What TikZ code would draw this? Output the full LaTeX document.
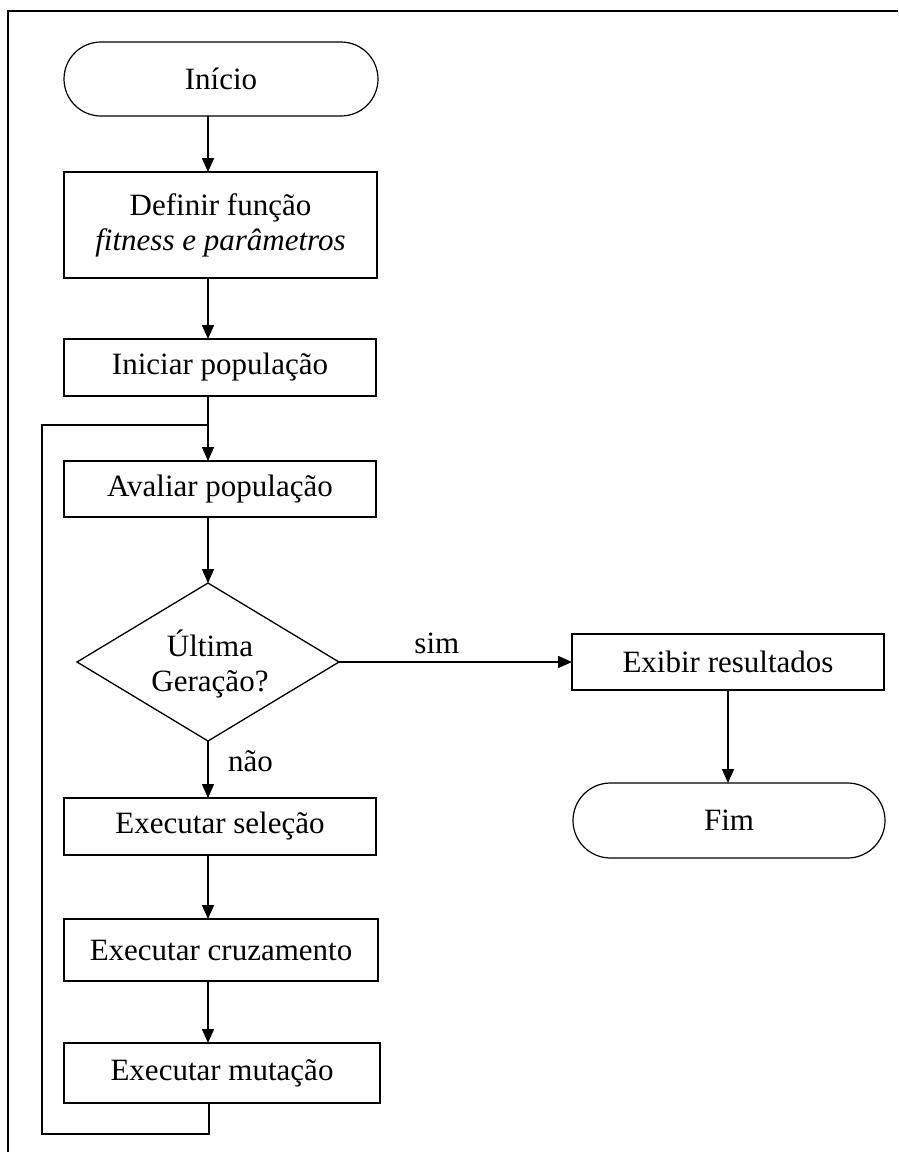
\documentclass[tikz,border=0pt]{standalone}
\usepackage{fontspec}
\setmainfont{Liberation Serif}
\usetikzlibrary{shapes.geometric,shapes.misc,arrows.meta}
\begin{document}
\begin{tikzpicture}[x=1pt,y=-1pt,
  line width=1.6pt,
  every node/.style={font=\fontsize{31}{35}\selectfont, inner sep=0pt, outer sep=0pt, align=center},
  procbox/.style={draw, rectangle},
  termbox/.style={draw, rounded rectangle, line width=1.2pt},
  decbox/.style={draw, diamond, line width=1.3pt},
  flow/.style={-{Triangle[width=12pt,length=14pt]}},
  lbl/.style={font=\fontsize{31}{35}\selectfont}
]
\useasboundingbox (0,0) rectangle (898,1152);
% frame (top and left edges)
\draw[line width=2pt] (898,11) -- (8,11) -- (8,1152);

\coordinate (sp) at (208,0);

\node[termbox, minimum width=314pt, minimum height=74pt] (inicio) at (221,79) {Início};
\node[procbox, minimum width=313pt, minimum height=106pt] (def) at (220.5,225) {Definir função\\\itshape fitness e parâmetros};
\node[procbox, minimum width=312pt, minimum height=57pt] (ini) at (220,367.5) {Iniciar população};
\node[procbox, minimum width=312pt, minimum height=56pt] (aval) at (220,489) {Avaliar população};
\node[decbox, minimum width=262pt, minimum height=158pt] (dec) at (208,662) {};
\node (dectxt) at (210,664) {Última\\Geração?};
\node[procbox, minimum width=312pt, minimum height=57pt] (sel) at (220,826.5) {Executar seleção};
\node[procbox, minimum width=314pt, minimum height=62pt] (cruz) at (221,950) {Executar cruzamento};
\node[procbox, minimum width=316pt, minimum height=60pt] (mut) at (222,1073) {Executar mutação};
\node[procbox, minimum width=312pt, minimum height=56pt] (exib) at (728,662) {Exibir resultados};
\node[termbox, minimum width=312pt, minimum height=75pt] (fim) at (729,820.5) {Fim};

\draw[flow] (inicio.south -| sp) -- (def.north -| sp);
\draw[flow] (def.south -| sp) -- (ini.north -| sp);
\draw[flow] (ini.south -| sp) -- (aval.north -| sp);
\draw[flow] (aval.south -| sp) -- (dec.north);
\draw[flow] (dec.south) -- (sel.north -| sp) node[pos=0.35, right=20pt, lbl] (nao) {não};
\draw[flow] (dec.east) -- (exib.west) node[pos=0.42, above=8pt, lbl] (sim) {sim};
\draw[flow] (exib.south) -- (exib.south |- fim.north);
\draw[flow] (sel.south -| sp) -- (cruz.north -| sp);
\draw[flow] (cruz.south -| sp) -- (mut.north -| sp);

\coordinate (lb) at (42,1134);
\coordinate (lt) at (42,425);
\draw (mut.south -| 209,0) -- (209,1134) -- (lb) -- (lt) -- (lt -| sp);
\end{tikzpicture}
\end{document}
